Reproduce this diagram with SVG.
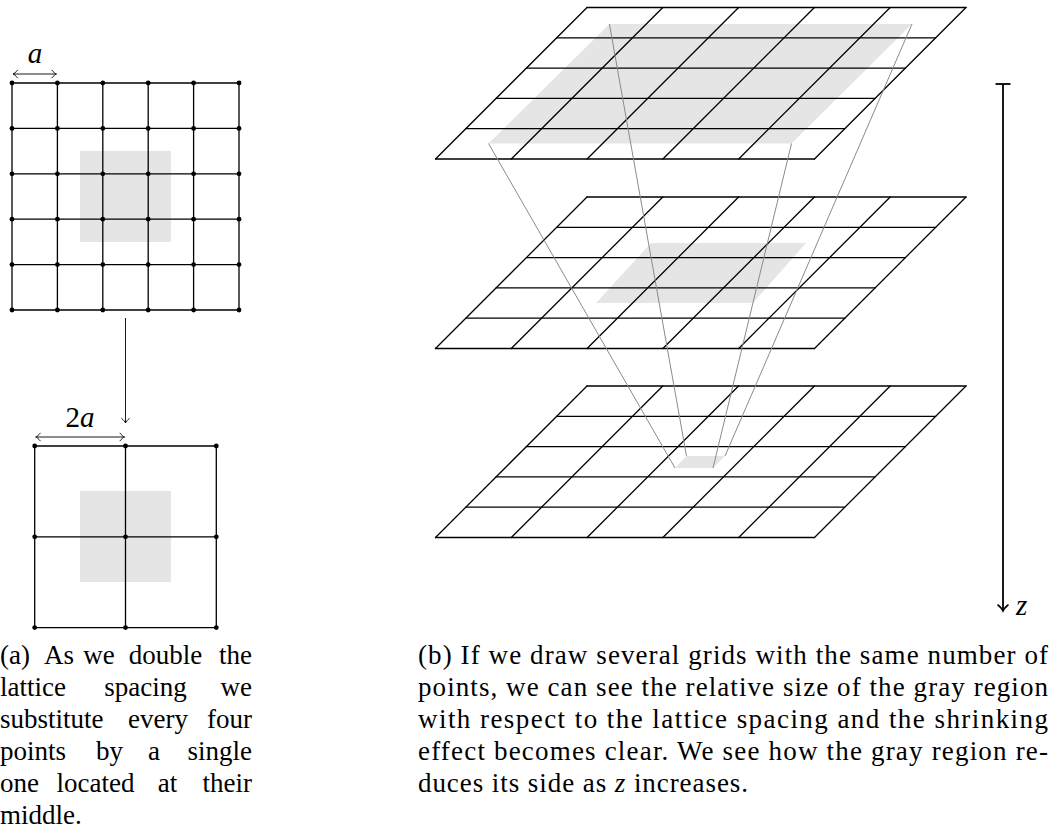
<svg xmlns="http://www.w3.org/2000/svg" width="1057" height="832" viewBox="0 0 1057 832">
<style>
.grid{stroke:#000;stroke-width:1.3;fill:none;stroke-linecap:round}
.shade{fill:#e5e5e5;stroke:none}
.ray{stroke:#8a8a8a;stroke-width:1;fill:none}
.dim{stroke:#000;stroke-width:0.9;fill:none}
</style>
<defs>
<marker id="tip" viewBox="-6 -5 8 10" markerWidth="8" markerHeight="10" refX="0" refY="0" orient="auto-start-reverse" markerUnits="userSpaceOnUse">
<path d="M-4.5,-3.8 C-2.8,-1.6 -1.2,-0.5 0,0 C-1.2,0.5 -2.8,1.6 -4.5,3.8" stroke="#000" stroke-width="0.9" fill="none" stroke-linecap="round"/>
</marker>
<marker id="tipz" viewBox="-8 -6 10 12" markerWidth="10" markerHeight="12" refX="0" refY="0" orient="auto" markerUnits="userSpaceOnUse">
<path d="M-6,-5 C-3.8,-2.2 -1.6,-0.7 0,0 C-1.6,0.7 -3.8,2.2 -6,5" stroke="#000" stroke-width="1.6" fill="none" stroke-linecap="round"/>
</marker>
<g id="pgrid" class="grid">
<path d="M435.5,0 H814.5 M465.8,-30.3 H844.8 M496.1,-60.6 H875.1 M526.4,-90.9 H905.4 M556.7,-121.2 H935.7 M587,-151.5 H966"/>
<path d="M435.5,0 L587,-151.5 M511.3,0 L662.8,-151.5 M587.1,0 L738.6,-151.5 M662.9,0 L814.4,-151.5 M738.7,0 L890.2,-151.5 M814.5,0 L966,-151.5"/>
</g>
</defs>

<g id="panel-a-fine">
<rect class="shade" x="80" y="151" width="91" height="91"/>
<path class="grid" d="M12,83 H239 M12,128.4 H239 M12,173.8 H239 M12,219.2 H239 M12,264.6 H239 M12,310 H239 M12,83 V310 M57.4,83 V310 M102.8,83 V310 M148.2,83 V310 M193.6,83 V310 M239,83 V310"/>
<g fill="#000">
<circle cx="12" cy="83" r="2.4"/><circle cx="57.4" cy="83" r="2.4"/><circle cx="102.8" cy="83" r="2.4"/><circle cx="148.2" cy="83" r="2.4"/><circle cx="193.6" cy="83" r="2.4"/><circle cx="239" cy="83" r="2.4"/>
<circle cx="12" cy="128.4" r="2.4"/><circle cx="57.4" cy="128.4" r="2.4"/><circle cx="102.8" cy="128.4" r="2.4"/><circle cx="148.2" cy="128.4" r="2.4"/><circle cx="193.6" cy="128.4" r="2.4"/><circle cx="239" cy="128.4" r="2.4"/>
<circle cx="12" cy="173.8" r="2.4"/><circle cx="57.4" cy="173.8" r="2.4"/><circle cx="102.8" cy="173.8" r="2.4"/><circle cx="148.2" cy="173.8" r="2.4"/><circle cx="193.6" cy="173.8" r="2.4"/><circle cx="239" cy="173.8" r="2.4"/>
<circle cx="12" cy="219.2" r="2.4"/><circle cx="57.4" cy="219.2" r="2.4"/><circle cx="102.8" cy="219.2" r="2.4"/><circle cx="148.2" cy="219.2" r="2.4"/><circle cx="193.6" cy="219.2" r="2.4"/><circle cx="239" cy="219.2" r="2.4"/>
<circle cx="12" cy="264.6" r="2.4"/><circle cx="57.4" cy="264.6" r="2.4"/><circle cx="102.8" cy="264.6" r="2.4"/><circle cx="148.2" cy="264.6" r="2.4"/><circle cx="193.6" cy="264.6" r="2.4"/><circle cx="239" cy="264.6" r="2.4"/>
<circle cx="12" cy="310" r="2.4"/><circle cx="57.4" cy="310" r="2.4"/><circle cx="102.8" cy="310" r="2.4"/><circle cx="148.2" cy="310" r="2.4"/><circle cx="193.6" cy="310" r="2.4"/><circle cx="239" cy="310" r="2.4"/>
</g>
<line class="dim" x1="13" y1="74" x2="56.4" y2="74" marker-start="url(#tip)" marker-end="url(#tip)"/>
<text x="35" y="63" text-anchor="middle" font-family="Liberation Serif, Times New Roman, serif" font-size="29" font-style="italic">a</text>
</g>

<g id="panel-a-coarse">
<rect class="shade" x="80" y="491" width="91" height="91"/>
<path class="grid" d="M34.7,446 H216.3 M34.7,536.8 H216.3 M34.7,627.6 H216.3 M34.7,446 V627.6 M125.5,446 V627.6 M216.3,446 V627.6"/>
<g fill="#000">
<circle cx="34.7" cy="446" r="2.4"/><circle cx="125.5" cy="446" r="2.4"/><circle cx="216.3" cy="446" r="2.4"/>
<circle cx="34.7" cy="536.8" r="2.4"/><circle cx="125.5" cy="536.8" r="2.4"/><circle cx="216.3" cy="536.8" r="2.4"/>
<circle cx="34.7" cy="627.6" r="2.4"/><circle cx="125.5" cy="627.6" r="2.4"/><circle cx="216.3" cy="627.6" r="2.4"/>
</g>
<line class="dim" x1="35.7" y1="437" x2="124.5" y2="437" marker-start="url(#tip)" marker-end="url(#tip)"/>
<text x="80" y="427" text-anchor="middle" font-family="Liberation Serif, Times New Roman, serif" font-size="29">2<tspan font-style="italic">a</tspan></text>
</g>

<g id="connectors">
<line class="dim" x1="125.5" y1="318" x2="125.5" y2="423" marker-end="url(#tip)"/>
<line x1="1003" y1="84" x2="1003" y2="611" stroke="#000" stroke-width="1.8" marker-end="url(#tipz)"/>
<line x1="995.5" y1="84" x2="1010.5" y2="84" stroke="#000" stroke-width="1.8"/>
</g>

<g id="layer-top">
<polygon class="shade" points="609.4,24 912,24 791.5,143.5 488.5,143.5"/>
<use href="#pgrid" transform="translate(0,159)"/>
</g>
<g id="layer-middle">
<polygon class="shade" points="651,243 806,243 753,303 596,303"/>
<use href="#pgrid" transform="translate(0,348.5)"/>
</g>
<g id="layer-bottom">
<polygon class="shade" points="686.5,456 725,456 713,468 675,468"/>
<use href="#pgrid" transform="translate(0,537.5)"/>
</g>

<g id="rays">
<line class="ray" x1="488.5" y1="143.5" x2="675" y2="468"/>
<line class="ray" x1="609.4" y1="24" x2="686.5" y2="456"/>
<line class="ray" x1="791.5" y1="143.5" x2="713" y2="468"/>
<line class="ray" x1="912" y1="24" x2="725" y2="456"/>
</g>

<text x="1016" y="615" font-family="Liberation Serif, Times New Roman, serif" font-size="29" font-style="italic">z</text>

<g id="caption-a" font-family="Liberation Serif, Times New Roman, serif" font-size="27">
<text x="0" y="664">(a)</text><text x="59" y="664" text-anchor="middle">As</text><text x="99" y="664" text-anchor="middle">we</text><text x="165.5" y="664" text-anchor="middle">double</text><text x="252" y="664" text-anchor="end">the</text>
<text x="0" y="696">lattice</text><text x="145.5" y="696" text-anchor="middle">spacing</text><text x="252" y="696" text-anchor="end">we</text>
<text x="0" y="728">substitute</text><text x="158" y="728" text-anchor="middle">every</text><text x="252" y="728" text-anchor="end">four</text>
<text x="0" y="760">points</text><text x="109.5" y="760" text-anchor="middle">by</text><text x="154" y="760" text-anchor="middle">a</text><text x="252" y="760" text-anchor="end">single</text>
<text x="0" y="792">one</text><text x="95.5" y="792" text-anchor="middle">located</text><text x="167.5" y="792" text-anchor="middle">at</text><text x="252" y="792" text-anchor="end">their</text>
<text x="0" y="824">middle.</text>
</g>

<g id="caption-b" font-family="Liberation Serif, Times New Roman, serif" font-size="27">
<text x="418" y="664" textLength="630" lengthAdjust="spacing">(b) If we draw several grids with the same number of</text>
<text x="418" y="696" textLength="630" lengthAdjust="spacing">points, we can see the relative size of the gray region</text>
<text x="418" y="728" textLength="630" lengthAdjust="spacing">with respect to the lattice spacing and the shrinking</text>
<text x="418" y="760" textLength="630" lengthAdjust="spacing">effect becomes clear. We see how the gray region re-</text>
<text x="418" y="792" textLength="330" lengthAdjust="spacing">duces its side as <tspan font-style="italic">z</tspan> increases.</text>
</g>
</svg>
